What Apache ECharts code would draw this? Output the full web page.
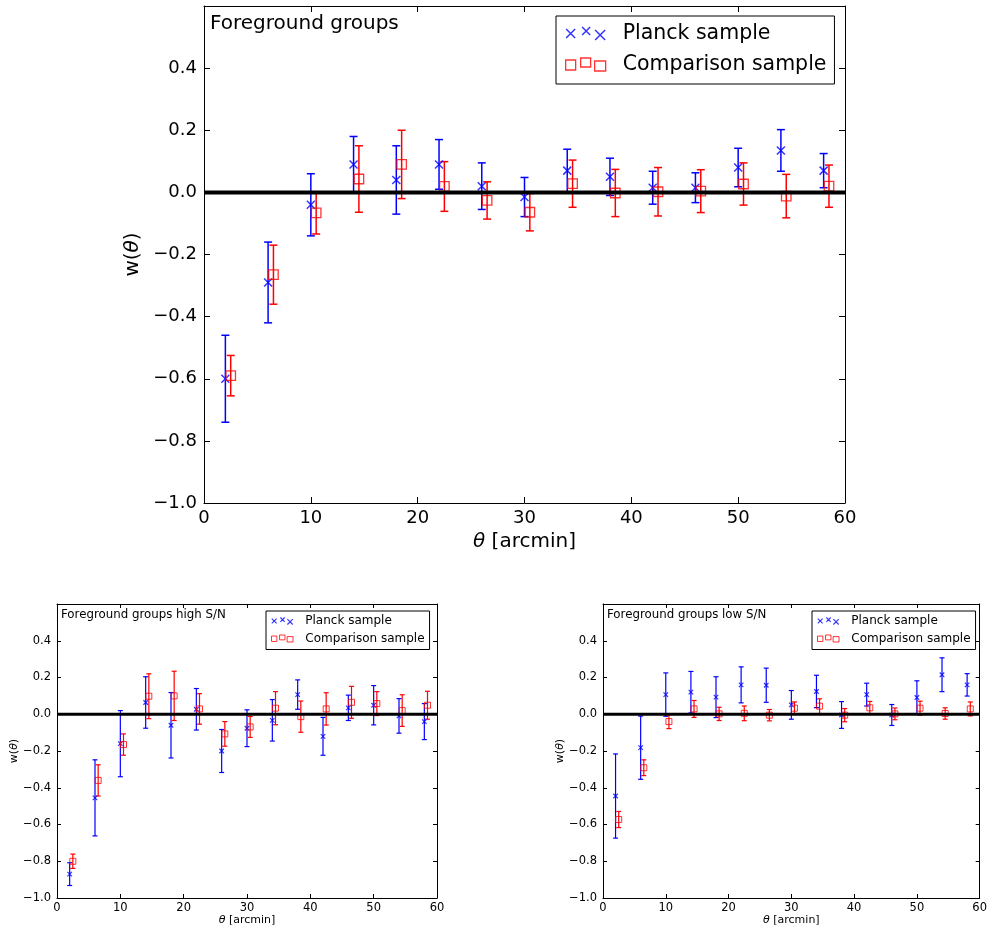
<!DOCTYPE html>
<html>
<head>
<meta charset="utf-8">
<script src="https://cdn.jsdelivr.net/npm/echarts@6/dist/echarts.min.js"></script>
<style>
  html, body { margin: 0; padding: 0; background: #fff; }
  #chart { width: 990px; height: 933px; }
</style>
</head>
<body>
<div id="chart"></div>
<script>
// angular bins (arcmin), comparison sample is drawn slightly shifted
const theta = [2, 6, 10, 14, 18, 22, 26, 30, 34, 38, 42, 46, 50, 54, 58];
const thetaShift = [2.5, 6.5, 10.5, 14.5, 18.5, 22.5, 26.5, 30.5, 34.5, 38.5, 42.5, 46.5, 50.5, 54.5, 58.5];
const yTicks = [-1.0, -0.8, -0.6, -0.4, -0.2, 0.0, 0.2, 0.4];
const zeroLine = [[0, 0], [60, 0]];

// all foreground groups
const planckAll = [-0.60, -0.29, -0.04, 0.09, 0.04, 0.09, 0.02, -0.015, 0.07, 0.05, 0.015, 0.015, 0.08, 0.135, 0.07];
const planckAllErr = [0.14, 0.13, 0.10, 0.09, 0.11, 0.08, 0.075, 0.063, 0.069, 0.06, 0.053, 0.048, 0.062, 0.067, 0.055];
const compAll = [-0.59, -0.265, -0.066, 0.043, 0.09, 0.019, -0.026, -0.064, 0.028, -0.002, 0.002, 0.004, 0.027, -0.012, 0.02];
const compAllErr = [0.065, 0.095, 0.068, 0.107, 0.11, 0.08, 0.06, 0.06, 0.076, 0.076, 0.078, 0.069, 0.068, 0.07, 0.068];

// high S/N
const planckHigh = [-0.87, -0.455, -0.16, 0.064, -0.06, 0.027, -0.2, -0.076, -0.033, 0.107, -0.12, 0.035, 0.049, -0.009, -0.04];
const planckHighErr = [0.062, 0.207, 0.18, 0.14, 0.178, 0.113, 0.117, 0.1, 0.113, 0.08, 0.103, 0.069, 0.107, 0.094, 0.098];
const compHigh = [-0.80, -0.36, -0.165, 0.098, 0.10, 0.029, -0.107, -0.069, 0.033, -0.013, 0.029, 0.065, 0.058, 0.02, 0.049];
const compHighErr = [0.039, 0.085, 0.058, 0.122, 0.134, 0.083, 0.067, 0.057, 0.09, 0.085, 0.088, 0.087, 0.065, 0.086, 0.076];

// low S/N
const planckLow = [-0.445, -0.182, 0.107, 0.12, 0.093, 0.16, 0.158, 0.051, 0.124, -0.004, 0.107, -0.004, 0.091, 0.215, 0.16];
const planckLowErr = [0.229, 0.172, 0.118, 0.113, 0.111, 0.098, 0.093, 0.078, 0.088, 0.073, 0.062, 0.057, 0.091, 0.092, 0.061];
const compLow = [-0.573, -0.291, -0.04, 0.029, 0.002, 0.005, -0.005, 0.033, 0.044, -0.005, 0.035, 0.002, 0.033, 0.004, 0.029];
const compLowErr = [0.044, 0.043, 0.038, 0.046, 0.036, 0.04, 0.031, 0.034, 0.04, 0.036, 0.035, 0.032, 0.038, 0.031, 0.038];

const BLUE = '#0000ff';
const RED = '#ff0000';
const FONT = 'DejaVu Sans';
const crossIcon = 'path://M1,2L10,11M10,2L1,11M17,0L25,8M25,0L17,8M30,3L40,13M40,3L30,13';
const squareIcon = 'path://M0,2L10,2L10,12L0,12ZM15,0L25,0L25,9L15,9ZM29,3L40,3L40,13L29,13Z';

const chart = echarts.init(document.getElementById('chart'), null, { renderer: 'canvas' });

function fmt(v) {
  return v.toFixed(1).replace('-', '\u2212');
}

function pairs(xs, ys) {
  return xs.map((x, i) => [x, ys[i]]);
}
function triples(xs, ys, es) {
  return xs.map((x, i) => [x, ys[i], es[i]]);
}

// errorbar drawing via custom series
function errBar(color, cap, lw) {
  return function (params, api) {
    const x = api.value(0), y = api.value(1), e = api.value(2);
    const top = api.coord([x, y + e]);
    const bot = api.coord([x, y - e]);
    const st = { stroke: color, lineWidth: lw };
    return {
      type: 'group',
      children: [
        { type: 'line', shape: { x1: top[0], y1: top[1], x2: bot[0], y2: bot[1] }, style: st },
        { type: 'line', shape: { x1: top[0] - cap, y1: top[1], x2: top[0] + cap, y2: top[1] }, style: st },
        { type: 'line', shape: { x1: bot[0] - cap, y1: bot[1], x2: bot[0] + cap, y2: bot[1] }, style: st }
      ]
    };
  };
}

// one panel: 2 x axes (bottom/top) + 2 y axes (left/right)
function axesFor(g, big) {
  const tickLen = big ? 6 : 4;
  const fs = big ? 18 : 11.5;
  const nfs = big ? 20 : 11;
  const line = { show: true, onZero: false, lineStyle: { color: '#000', width: 1 } };
  const tick = { show: true, inside: true, length: tickLen, lineStyle: { color: '#000', width: 1 } };
  const xs = [
    {
      type: 'value', gridIndex: g, position: 'bottom', min: 0, max: 60, interval: 10,
      axisLine: line, axisTick: tick, splitLine: { show: false },
      axisLabel: { color: '#000', fontFamily: FONT, fontSize: fs, margin: big ? 6 : 4 },
      name: '{i|\u03b8} [arcmin]', nameLocation: 'middle', nameGap: big ? 27 : 15,
      nameTextStyle: {
        color: '#000', fontFamily: FONT, fontSize: nfs,
        rich: { i: { fontStyle: 'italic', fontFamily: FONT, fontSize: nfs, color: '#000' } }
      }
    },
    {
      type: 'value', gridIndex: g, position: 'top', min: 0, max: 60, interval: 10,
      axisLine: line, axisTick: tick, splitLine: { show: false }, axisLabel: { show: false }
    }
  ];
  const ys = [
    {
      type: 'value', gridIndex: g, position: 'left', min: -1, max: 0.6, interval: 0.2,
      axisLine: line, axisTick: tick, splitLine: { show: false },
      axisLabel: { color: '#000', fontFamily: FONT, fontSize: fs, margin: big ? 7 : 6, showMaxLabel: false, formatter: fmt },
      name: 'w({i|\u03b8})', nameLocation: 'middle', nameGap: big ? 54 : 36,
      nameTextStyle: {
        color: '#000', fontFamily: FONT, fontSize: nfs,
        rich: { i: { fontStyle: 'italic', fontFamily: FONT, fontSize: nfs, color: '#000' } }
      }
    },
    {
      type: 'value', gridIndex: g, position: 'right', min: -1, max: 0.6, interval: 0.2,
      axisLine: line, axisTick: tick, splitLine: { show: false }, axisLabel: { show: false }
    }
  ];
  return { xs, ys };
}

function seriesFor(g, big, pv, pe, cv, ce) {
  const ax = { xAxisIndex: g * 2, yAxisIndex: g * 2 };
  const cap = big ? 4 : 2.5;
  const lw = big ? 1.5 : 1.2;
  return [
    Object.assign({
      type: 'custom', renderItem: errBar(BLUE, cap, lw), data: triples(theta, pv, pe),
      encode: { x: 0, y: 1 }, z: 2, silent: true
    }, ax),
    Object.assign({
      type: 'custom', renderItem: errBar(RED, cap, lw), data: triples(thetaShift, cv, ce),
      encode: { x: 0, y: 1 }, z: 2, silent: true
    }, ax),
    Object.assign({
      name: 'Planck sample', type: 'scatter', data: pairs(theta, pv),
      symbol: 'path://M0,0L10,10M10,0L0,10', symbolSize: big ? 8 : 4.5,
      itemStyle: { color: 'transparent', borderColor: BLUE, borderWidth: big ? 1.5 : 1.2 }, z: 3
    }, ax),
    Object.assign({
      name: 'Comparison sample', type: 'scatter', data: pairs(thetaShift, cv),
      symbol: 'rect', symbolSize: big ? 9.5 : 6,
      itemStyle: { color: 'transparent', borderColor: RED, borderWidth: big ? 1.3 : 1 }, z: 3
    }, ax),
    Object.assign({
      type: 'line', data: zeroLine, symbol: 'none', silent: true,
      lineStyle: { color: '#000', width: big ? 4 : 3 }, z: 4
    }, ax)
  ];
}

function legendFor(left, top, big) {
  const fs = big ? 20.5 : 12;
  return {
    orient: 'vertical', left: left, top: top, align: 'left',
    backgroundColor: '#fff', borderColor: '#000', borderWidth: 1, borderRadius: 0,
    padding: big ? [7, 8, 9, 9] : [4, 5, 5, 5],
    itemWidth: big ? 40 : 22, itemHeight: big ? 13 : 7, itemGap: big ? 10 : 5.5,
    selectedMode: false,
    textStyle: { color: '#000', fontFamily: FONT, fontSize: fs, padding: [0, 0, 0, big ? 12 : 7] },
    data: [
      { name: 'Planck sample', icon: crossIcon,
        itemStyle: { color: 'transparent', borderColor: BLUE, borderWidth: big ? 1.5 : 1.1 } },
      { name: 'Comparison sample', icon: squareIcon,
        itemStyle: { color: 'transparent', borderColor: RED, borderWidth: big ? 1.3 : 1 } }
    ]
  };
}

const a0 = axesFor(0, true), a1 = axesFor(1, false), a2 = axesFor(2, false);

const option = {
  backgroundColor: '#fff',
  animation: false,
  title: [
    { text: 'Foreground groups', left: 210, top: 14, padding: 0,
      textStyle: { color: '#000', fontFamily: FONT, fontSize: 20, fontWeight: 'normal' } },
    { text: 'Foreground groups high S/N', left: 61, top: 609, padding: 0,
      textStyle: { color: '#000', fontFamily: FONT, fontSize: 11.8, fontWeight: 'normal' } },
    { text: 'Foreground groups low S/N', left: 607, top: 609, padding: 0,
      textStyle: { color: '#000', fontFamily: FONT, fontSize: 11.8, fontWeight: 'normal' } }
  ],
  legend: [
    legendFor(556, 16, true),
    legendFor(266, 611, false),
    legendFor(812, 611, false)
  ],
  grid: [
    { left: 204, top: 6, width: 641, height: 497 },
    { left: 57, top: 604, width: 380, height: 294 },
    { left: 603, top: 604, width: 380, height: 294 }
  ],
  xAxis: [].concat(a0.xs, a1.xs, a2.xs),
  yAxis: [].concat(a0.ys, a1.ys, a2.ys),
  series: [].concat(
    seriesFor(0, true, planckAll, planckAllErr, compAll, compAllErr),
    seriesFor(1, false, planckHigh, planckHighErr, compHigh, compHighErr),
    seriesFor(2, false, planckLow, planckLowErr, compLow, compLowErr)
  )
};

chart.setOption(option);
</script>
</body>
</html>
